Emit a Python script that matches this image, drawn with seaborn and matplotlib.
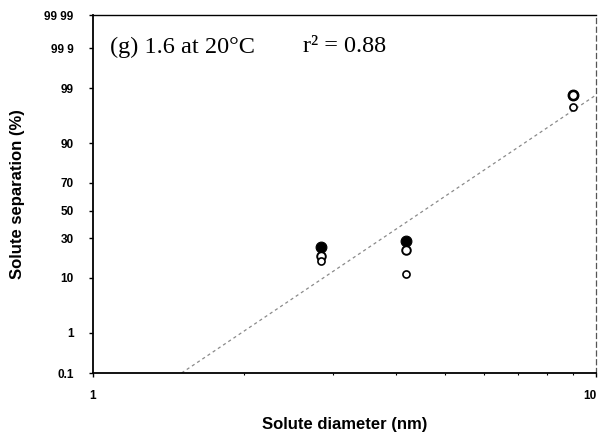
import math
import numpy as np
import pandas as pd
import matplotlib
matplotlib.use("Agg")
import matplotlib.pyplot as plt
import matplotlib.transforms as mtransforms
import seaborn as sns
from matplotlib.ticker import FixedLocator, FixedFormatter, LogLocator, NullFormatter

# ---- data ----
diameter_nm = [2.84, 4.19, 9.0]
sep_filled = [24.6, 28.4, 98.6]
sep_open_a = [19.6, 22.9, 98.6]
sep_open_b = [17.0, 11.5, 97.6]
fit_diameter = [1.50, 10.0]
fit_sep = [0.1, 98.6]
y_ticks = [0.1, 1, 10, 30, 50, 70, 90, 99, 99.9, 99.99]
y_ticklabels = ["0.1", "1", "10", "30", "50", "70", "90", "99", "99 9", "99 99"]
x_ticks = [1, 10]
x_ticklabels = ["1", "10"]
label_text = "(g) 1.6 at 20\u00b0C"
r2_text = "r\u00b2 = 0.88"

# ---- probability (probit) scale ----
_a = [-3.969683028665376e+01, 2.209460984245205e+02, -2.759285104469687e+02,
      1.383577518672690e+02, -3.066479806614716e+01, 2.506628277459239e+00]
_b = [-5.447609879822406e+01, 1.615858368580409e+02, -1.556989798598866e+02,
      6.680131188771972e+01, -1.328068155288572e+01]
_c = [-7.784894002430293e-03, -3.223964580411365e-01, -2.400758277161838e+00,
      -2.549671010739305e+00, 4.374664141464968e+00, 2.938163982698783e+00]
_d = [7.784695709041462e-03, 3.224671290700398e-01, 2.445134137142996e+00,
      3.754408661907416e+00]


def _ppf(q):
    q = np.clip(np.asarray(q, dtype=float), 1e-12, 1 - 1e-12)
    plow = 0.02425
    r = q - 0.5
    s = r * r
    central = ((((((_a[0] * s + _a[1]) * s + _a[2]) * s + _a[3]) * s + _a[4]) * s + _a[5]) * r /
               (((((_b[0] * s + _b[1]) * s + _b[2]) * s + _b[3]) * s + _b[4]) * s + 1))
    t = np.sqrt(-2 * np.log(q))
    low = ((((((_c[0] * t + _c[1]) * t + _c[2]) * t + _c[3]) * t + _c[4]) * t + _c[5]) /
           ((((_d[0] * t + _d[1]) * t + _d[2]) * t + _d[3]) * t + 1))
    u = np.sqrt(-2 * np.log(1 - q))
    high = -((((((_c[0] * u + _c[1]) * u + _c[2]) * u + _c[3]) * u + _c[4]) * u + _c[5]) /
             ((((_d[0] * u + _d[1]) * u + _d[2]) * u + _d[3]) * u + 1))
    return np.where(q < plow, low, np.where(q > 1 - plow, high, central))


_erf = np.vectorize(math.erf)


def forward(p):
    return _ppf(np.asarray(p, dtype=float) / 100.0)


def inverse(z):
    z = np.asarray(z, dtype=float)
    return 100.0 * 0.5 * (1 + _erf(z / math.sqrt(2)))


# ---- figure ----
sns.set_theme(style="white")
plt.rcParams["font.family"] = ["Liberation Sans", "DejaVu Sans"]

fig = plt.figure(figsize=(6.01, 4.36), dpi=100)
ax = fig.add_axes([93 / 601, 1 - 373 / 436, (596 - 93) / 601, (373 - 15) / 436])

df_pts = pd.DataFrame({"d": diameter_nm, "filled": sep_filled,
                       "open_a": sep_open_a, "open_b": sep_open_b})
df_fit = pd.DataFrame({"d": fit_diameter, "sep": fit_sep})

ax.set_xscale("log")
ax.set_yscale("function", functions=(forward, inverse))

sns.lineplot(data=df_fit, x="d", y="sep", ax=ax, color="#8a8a8a", lw=0.9,
             linestyle=(0, (2.5, 2.5)), zorder=2)
sns.scatterplot(data=df_pts, x="d", y="filled", ax=ax, color="black", s=60,
                edgecolor="black", linewidth=0.8, zorder=3)
sns.scatterplot(data=df_pts, x="d", y="open_a", ax=ax, color="white", s=38,
                edgecolor="black", linewidth=1.4, zorder=4)
sns.scatterplot(data=df_pts, x="d", y="open_b", ax=ax, color="white", s=26,
                edgecolor="black", linewidth=1.2, zorder=4)

ax.set_xlim(1, 10)
ax.set_ylim(0.1, 99.99)

ax.yaxis.set_major_locator(FixedLocator(y_ticks))
ax.yaxis.set_major_formatter(FixedFormatter(y_ticklabels))
ax.yaxis.set_minor_locator(FixedLocator([]))
ax.xaxis.set_major_locator(FixedLocator(x_ticks))
ax.xaxis.set_major_formatter(FixedFormatter(x_ticklabels))
ax.xaxis.set_minor_locator(LogLocator(base=10, subs=np.arange(2, 10)))
ax.xaxis.set_minor_formatter(NullFormatter())

ax.tick_params(axis="both", which="major", direction="out", length=3, width=1,
               color="black", labelsize=8.5, labelcolor="black", pad=11,
               bottom=True, left=True)
ax.tick_params(axis="x", which="major", pad=9)
ax.tick_params(axis="x", which="minor", direction="out", length=1.5, width=0.8,
               color="black", bottom=True)
for lab in ax.get_xticklabels() + ax.get_yticklabels():
    lab.set_fontweight("bold")

# keep the right-hand "10" label inside the image
xlabels = ax.get_xticklabels()
shift = mtransforms.ScaledTranslation(-6 / 100, 0, fig.dpi_scale_trans)
xlabels[-1].set_transform(xlabels[-1].get_transform() + shift)

for side in ["left", "bottom"]:
    ax.spines[side].set_color("black")
    ax.spines[side].set_linewidth(1.3)
ax.spines["top"].set_color("black")
ax.spines["top"].set_linewidth(1.0)
ax.spines["right"].set_color("#555555")
ax.spines["right"].set_linewidth(0.9)
ax.spines["right"].set_linestyle((0, (4, 3)))

ax.set_xlabel("Solute diameter (nm)", fontsize=12, fontweight="bold",
              color="black", labelpad=11)
ax.set_ylabel("Solute separation (%)", fontsize=12, fontweight="bold",
              color="black", labelpad=14)

fig.text(110 / 601, 1 - 47 / 436, label_text, fontsize=17.5,
         family=["Liberation Serif", "DejaVu Serif"], va="center", ha="left",
         color="black")
fig.text(303 / 601, 1 - 47 / 436, r2_text, fontsize=17.5,
         family=["Liberation Serif", "DejaVu Serif"], va="center", ha="left",
         color="black")

fig.savefig("out.png", dpi=100, facecolor="white")
